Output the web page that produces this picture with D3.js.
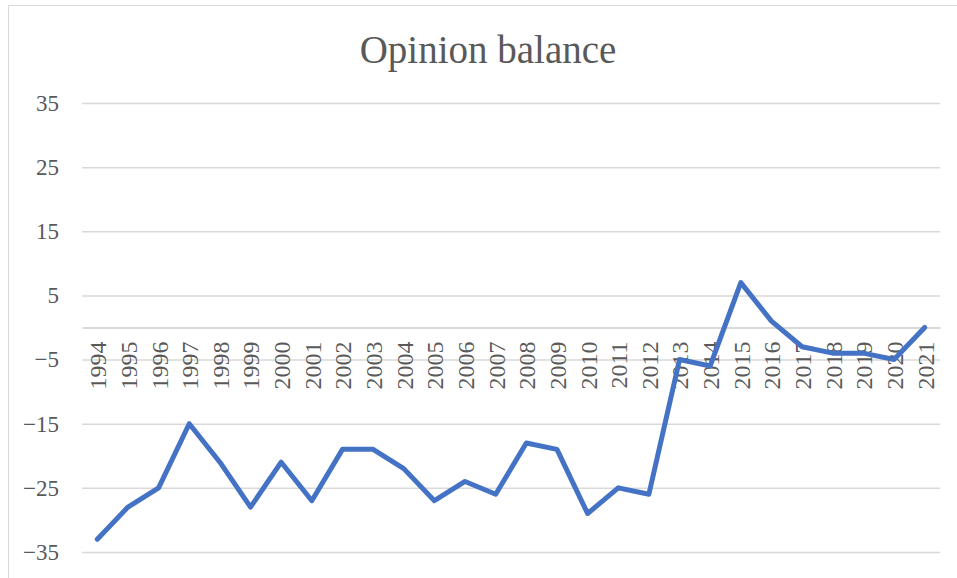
<!DOCTYPE html>
<html>
<head>
<meta charset="utf-8">
<script src="https://cdn.jsdelivr.net/npm/d3@7"></script>
<style>
  body { margin: 0; background: #fff; }
  text { font-family: "Liberation Serif", "DejaVu Serif", serif; fill: #595959; }
</style>
</head>
<body>
<div id="chart"></div>
<script>
// data
const years = [1994, 1995, 1996, 1997, 1998, 1999, 2000, 2001, 2002, 2003,
  2004, 2005, 2006, 2007, 2008, 2009, 2010, 2011, 2012, 2013,
  2014, 2015, 2016, 2017, 2018, 2019, 2020, 2021];
const balance = [-33, -28, -25, -15, -21, -28, -21, -27, -19, -19,
  -22, -27, -24, -26, -18, -19, -29, -25, -26, -5,
  -6, 7, 1, -3, -4, -4, -5, 0];
const yTicks = [-35, -25, -15, -5, 5, 15, 25, 35];
const title = "Opinion balance";

const W = 957, H = 578;
const margin = {top: 103, right: 17, bottom: 26, left: 82};
const width = W - margin.left - margin.right,
  height = H - margin.top - margin.bottom;

const svg = d3.select("#chart").append("svg")
  .attr("width", W)
  .attr("height", H);

// outer chart frame
svg.append("rect")
  .attr("x", 8.5).attr("y", 5.5)
  .attr("width", W + 10).attr("height", H + 10)
  .attr("fill", "none")
  .attr("stroke", "#d9d9d9")
  .attr("stroke-width", 1);

svg.append("text")
  .attr("x", 488)
  .attr("y", 63)
  .attr("text-anchor", "middle")
  .style("font-size", "39px")
  .text(title);

const x = d3.scalePoint()
  .domain(years)
  .range([0, width])
  .padding(0.5);

const y = d3.scaleLinear()
  .domain([-35, 35])
  .range([449, 0]);

const main = svg.append("g")
  .attr("transform", "translate(" + margin.left + "," + margin.top + ")");

// gridlines + y labels
const yAxis = d3.axisLeft(y)
  .tickValues(yTicks)
  .tickSize(-width)
  .tickPadding(23)
  .tickFormat(d3.format("d"));

const yg = main.append("g").call(yAxis);
yg.select(".domain").remove();
yg.selectAll(".tick line")
  .attr("stroke", "#d9d9d9")
  .attr("stroke-width", 1.5);
yg.selectAll(".tick text")
  .style("font-size", "23px")
  .attr("fill", "#595959");

// zero line with category labels hanging below
const xAxis = d3.axisBottom(x).tickSize(0).tickPadding(0);
const xg = main.append("g")
  .attr("transform", "translate(0," + y(0) + ")")
  .call(xAxis);
xg.select(".domain")
  .attr("stroke", "#d9d9d9")
  .attr("stroke-width", 2.2);
xg.selectAll(".tick text")
  .style("font-size", "24px")
  .attr("fill", "#595959")
  .attr("text-anchor", "end")
  .attr("transform", "translate(0,14) rotate(-90)")
  .attr("x", 0)
  .attr("y", 0)
  .attr("dy", "0.35em");

const line = d3.line()
  .x((d, i) => x(years[i]))
  .y(d => y(d));

main.append("path")
  .datum(balance)
  .attr("fill", "none")
  .attr("stroke", "#4472c4")
  .attr("stroke-width", 5)
  .attr("stroke-linejoin", "round")
  .attr("stroke-linecap", "round")
  .attr("d", line);
</script>
</body>
</html>
